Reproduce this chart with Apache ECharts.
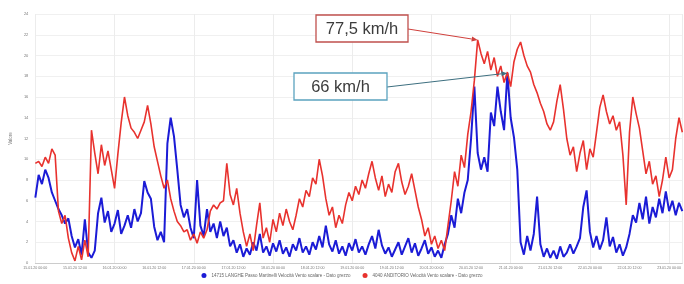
<!DOCTYPE html>
<html>
<head>
<meta charset="utf-8">
<script src="https://cdn.jsdelivr.net/npm/echarts@6/dist/echarts.min.js"></script>
<style>
html,body{margin:0;padding:0;background:#fff;}
#c{width:684px;height:284px;}
</style>
</head>
<body>
<div id="c"></div>
<script>
// hourly samples (m/s), starting at the first tick
const blueName = "14715 LANGHE Passo Martinelli Velocità Vento scalare - Dato grezzo";
const redName = "4040 ANDITORIO Velocità Vento scalare - Dato grezzo";
const xTickLabels = ["15.01.20 00:00","15.01.20 12:00","16.01.20 00:00","16.01.20 12:00","17.01.20 00:00","17.01.20 12:00","18.01.20 00:00","18.01.20 12:00","19.01.20 00:00","19.01.20 12:00","20.01.20 00:00","20.01.20 12:00","21.01.20 00:00","21.01.20 12:00","22.01.20 00:00","22.01.20 12:00","23.01.20 00:00"];
const yTicks = [0,2,4,6,8,10,12,14,16,18,20,22,24];
const blueValues = [
6.3,8.5,7.6,9.0,8.2,6.8,6.0,5.2,4.6,3.8,
4.3,2.6,1.5,2.3,0.8,4.2,1.0,0.5,1.2,4.8,
6.3,3.9,5.0,3.0,3.8,5.1,2.8,3.6,4.6,3.4,
5.2,4.0,4.8,7.9,6.8,6.2,3.5,2.2,3.0,2.0,
11.5,14.0,12.2,9.0,5.6,4.4,5.2,3.4,2.4,8.0,
3.6,2.6,5.2,3.0,3.8,2.4,4.0,2.6,3.4,1.6,
2.2,1.0,1.8,0.6,1.4,0.8,2.0,1.2,2.8,1.0,
1.6,0.7,1.9,1.1,2.2,0.9,1.5,0.6,1.8,1.2,
2.4,1.0,1.6,0.8,2.0,1.3,2.6,1.5,3.6,1.8,
1.1,2.2,0.9,1.6,0.7,1.9,1.2,2.3,1.0,1.6,
0.8,1.8,2.6,1.4,3.2,1.7,0.9,1.5,0.6,1.3,
2.0,0.8,1.6,2.4,1.0,1.9,0.7,1.4,2.2,0.9,
1.5,0.6,1.2,0.5,1.8,2.8,4.6,3.4,6.2,4.8,
6.8,8.0,12.0,17.0,10.6,9.0,10.2,8.8,14.5,13.2,
17.0,14.6,12.8,18.3,14.0,12.1,9.0,2.0,0.8,2.6,
1.2,2.8,6.4,1.8,0.6,1.4,0.5,1.2,0.4,1.6,
0.6,1.0,1.8,0.9,1.6,2.4,5.4,7.0,3.0,1.5,
2.6,1.3,2.2,4.4,1.6,2.5,1.0,1.8,0.7,1.5,
2.8,4.6,3.9,5.8,4.2,6.4,3.8,5.4,4.4,6.2,
4.8,6.9,5.0,6.0,4.6,5.8,5.0
];
const redValues = [
9.6,9.8,9.3,10.2,9.6,11.0,10.4,5.0,3.8,4.6,
2.4,1.0,0.2,1.6,0.3,2.2,0.6,12.8,10.6,8.6,
11.4,9.4,10.8,9.0,7.2,10.5,13.5,16.0,14.2,13.0,
12.6,12.0,12.8,13.6,15.2,13.4,11.2,9.8,8.4,7.2,
8.0,6.2,5.0,4.0,3.6,3.0,3.2,2.2,2.8,1.9,
3.0,2.4,3.2,5.0,5.6,5.2,5.8,6.0,9.6,6.6,
5.6,7.2,4.8,3.0,1.6,2.8,1.2,3.6,5.8,2.4,
3.4,2.0,4.2,3.0,4.8,3.6,5.2,4.0,3.2,4.6,
6.2,5.4,7.0,6.4,8.2,7.6,10.0,8.4,6.2,4.6,
5.4,3.4,4.6,3.8,5.6,6.8,6.0,7.4,6.6,8.0,
7.2,8.6,9.8,8.2,7.0,8.4,6.4,7.6,6.8,8.8,
9.6,7.8,6.6,7.4,8.6,7.0,5.4,4.2,2.6,3.4,
1.8,2.6,1.4,2.2,1.2,3.6,6.0,8.8,7.4,10.4,
9.2,12.4,14.6,17.6,21.5,20.2,19.2,20.4,18.6,19.8,
18.0,19.0,17.4,18.4,17.0,19.4,20.6,21.3,20.0,19.0,
18.4,17.2,16.4,15.4,14.6,13.4,12.8,13.6,15.6,17.2,
14.8,12.0,10.4,11.2,8.8,10.6,11.8,9.0,11.0,10.2,
12.6,15.0,16.2,14.6,13.4,14.2,12.8,13.6,10.4,5.6,
12.6,16.0,14.4,13.0,10.8,8.6,9.8,7.6,8.4,6.4,
8.0,10.2,8.2,9.0,12.0,14.0,12.6
];
const redLabel = "77,5 km/h";
const blueLabel = "66 km/h";
const redPeakIndex = 134;
const bluePeakIndex = 143;

const STEP_H = 1;
const toPairs = arr => arr.map((v, i) => [i * STEP_H, v]);
const X_MAX = (blueValues.length - 1) * STEP_H;

const chart = echarts.init(document.getElementById('c'), null, {renderer: 'canvas'});
const option = {
  animation: false,
  backgroundColor: '#ffffff',
  grid: {left: 30, right: 1, top: 14, bottom: 21, containLabel: false},
  legend: {
    bottom: 1, left: 'center', itemWidth: 5, itemHeight: 5, itemGap: 12,
    icon: 'circle',
    textStyle: {fontSize: 4.5, color: '#666', fontFamily: 'Liberation Sans'},
    data: [blueName, redName]
  },
  xAxis: [{
    type: 'value', min: 0, max: X_MAX, interval: 12,
    axisLine: {show: true, lineStyle: {color: '#ccc', width: 1}},
    axisTick: {show: false},
    splitLine: {show: false},
    axisLabel: {
      fontSize: 3.6, color: '#777', margin: 3, fontFamily: 'Liberation Sans',
      formatter: v => xTickLabels[Math.round(v / 12)] || ''
    }
  }, {
    type: 'value', min: 0, max: X_MAX, interval: 24, show: true,
    axisLine: {show: false}, axisTick: {show: false}, axisLabel: {show: false},
    splitLine: {show: true, lineStyle: {color: '#ececec', width: 1}}
  }],
  yAxis: {
    type: 'value', min: 0, max: 24, interval: 2,
    name: 'Valore', nameLocation: 'middle', nameGap: 20, nameRotate: 90,
    nameTextStyle: {fontSize: 4.5, color: '#777', fontFamily: 'Liberation Sans'},
    axisLine: {show: false}, axisTick: {show: false},
    axisLabel: {fontSize: 4, color: '#777', margin: 7, fontFamily: 'Liberation Sans',
      formatter: v => yTicks.includes(v) ? String(v) : ''},
    splitLine: {show: true, lineStyle: {color: '#f0f0f0', width: 1}}
  },
  series: [{
    name: blueName, type: 'line', data: toPairs(blueValues), xAxisIndex: 0,
    showSymbol: false, symbol: 'circle', color: '#1b1bd6',
    lineStyle: {width: 2, color: '#1b1bd6'}
  }, {
    name: redName, type: 'line', data: toPairs(redValues), xAxisIndex: 0,
    showSymbol: false, symbol: 'circle', color: '#e8322e',
    lineStyle: {width: 1.6, color: '#e8322e'}
  }]
};
chart.setOption(option);

function arrow(from, to, color) {
  const dx = to[0] - from[0], dy = to[1] - from[1];
  const len = Math.sqrt(dx * dx + dy * dy);
  const ux = dx / len, uy = dy / len;
  const ah = 6, aw = 2.5;
  const bx = to[0] - ux * ah, by = to[1] - uy * ah;
  return [{
    type: 'line', shape: {x1: from[0], y1: from[1], x2: bx, y2: by},
    style: {stroke: color, lineWidth: 1}, z: 100
  }, {
    type: 'polygon', shape: {points: [[to[0], to[1]], [bx - uy * aw, by + ux * aw], [bx + uy * aw, by - ux * aw]]},
    style: {fill: color}, z: 100
  }];
}

const redPt = chart.convertToPixel({xAxisIndex: 0, yAxisIndex: 0}, [redPeakIndex * STEP_H, redValues[redPeakIndex]]);
const bluePt = chart.convertToPixel({xAxisIndex: 0, yAxisIndex: 0}, [bluePeakIndex * STEP_H, blueValues[bluePeakIndex]]);

const redBox = {x: 316, y: 15, w: 92, h: 27};
const blueBox = {x: 294, y: 73, w: 93, h: 27};
const graphics = [
  {type: 'rect', shape: {x: redBox.x, y: redBox.y, width: redBox.w, height: redBox.h},
   style: {fill: '#fff', stroke: '#c0504d', lineWidth: 1.3}, z: 101},
  {type: 'text', x: redBox.x + redBox.w / 2, y: redBox.y + redBox.h / 2 + 1,
   style: {text: redLabel, fill: '#3c3c3c', font: '500 16.5px "Liberation Sans", Arial', textAlign: 'center', textVerticalAlign: 'middle'}, z: 102},
  {type: 'rect', shape: {x: blueBox.x, y: blueBox.y, width: blueBox.w, height: blueBox.h},
   style: {fill: '#fff', stroke: '#5ba3bf', lineWidth: 1.3}, z: 101},
  {type: 'text', x: blueBox.x + blueBox.w / 2, y: blueBox.y + blueBox.h / 2 + 1,
   style: {text: blueLabel, fill: '#3c3c3c', font: '500 16.5px "Liberation Sans", Arial', textAlign: 'center', textVerticalAlign: 'middle'}, z: 102}
].concat(
  arrow([redBox.x + redBox.w, redBox.y + 14], redPt, '#d0403c'),
  arrow([blueBox.x + blueBox.w, blueBox.y + 14], bluePt, '#3d6f80')
);
chart.setOption({graphic: graphics});
</script>
</body>
</html>
